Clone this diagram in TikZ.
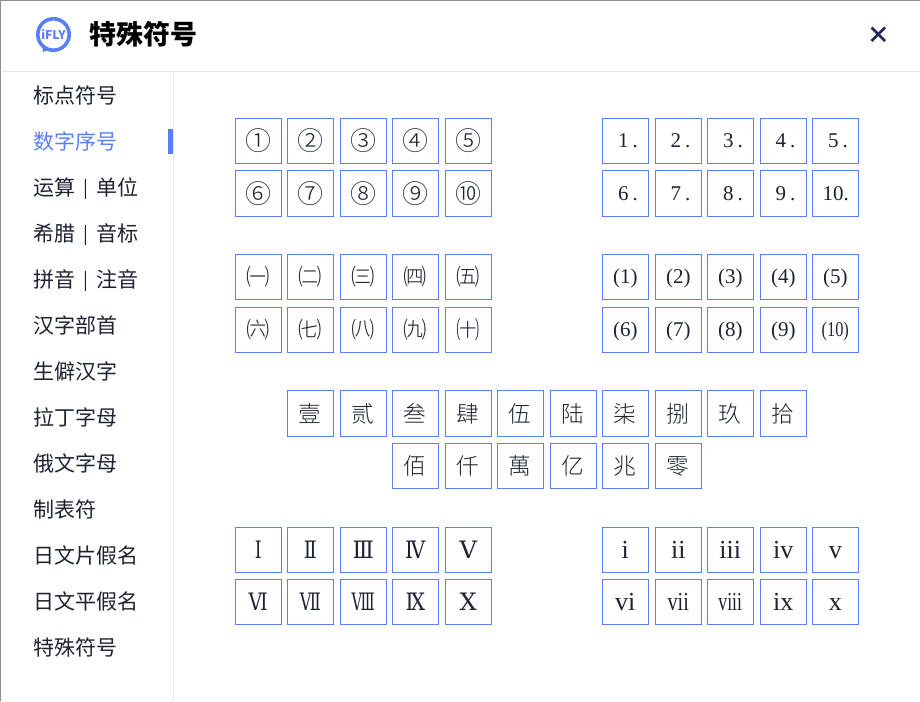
\documentclass[tikz,border=0pt]{standalone}
\usepackage{fontspec}
\setmainfont{Noto Sans CJK SC}
\newfontfamily\latinserif{Liberation Serif}
\newfontfamily\romanserif[FakeStretch=0.72]{DejaVu Serif}
\newfontfamily\cjklight{Noto Sans CJK SC Light}
\definecolor{accent}{HTML}{5B7FFB}
\definecolor{inkdark}{HTML}{1E2233}
\definecolor{closeink}{HTML}{1E2A55}
\definecolor{rulegray}{HTML}{E4E6EA}
\definecolor{edgegray}{HTML}{8A8E96}
\tikzset{
  x=0.75pt,y=-0.75pt,
  glyphbox/.style={draw=accent,line width=0.75pt,minimum width=34.2pt,minimum height=34pt,inner sep=0pt,outer sep=0pt,text=inkdark,font=\cjklight\fontsize{17}{17}\selectfont,text height=14.9pt,text depth=2pt,anchor=center,xshift=0.2pt},
  circlebox/.style={glyphbox,font=\cjklight\fontsize{19.5}{19.5}\selectfont,text height=16.8pt,text depth=2pt},
  smallbox/.style={glyphbox,font=\cjklight\fontsize{17.5}{17.5}\selectfont},
  digitbox/.style={glyphbox,font=\latinserif\fontsize{15.75}{15.75}\selectfont,text height=12pt,text depth=2pt},
  lowerbox/.style={glyphbox,font=\latinserif\fontsize{19.5}{19.5}\selectfont,text height=14pt,text depth=2pt},
  romanbox/.style={glyphbox,font=\romanserif\fontsize{18}{18}\selectfont,text height=14.5pt,text depth=2.5pt},
  menuitem/.style={anchor=base west,inner sep=0pt,text=inkdark,font=\fontsize{15.75}{15.75}\selectfont},
}
\newcommand{\sepbar}{\makebox[15.75pt]{\raisebox{0.6pt}{\fontsize{13.5}{13.5}\selectfont |}}}
\newcommand{\tight}[1]{\scalebox{0.78}[1]{#1}}
\newcommand{\sx}[2]{\scalebox{#1}[1]{#2}}
\newcommand{\dotted}[1]{\hspace{3.5pt}#1\hspace{3pt}.}
\newcommand{\rowboxes}[4]{%
  \foreach \xpos/\glyph [count=\i] in {#4}{\node[#1] (#2-\i) at (\xpos,#3) {\glyph};}}
\begin{document}
\begin{tikzpicture}
\useasboundingbox (0,0) rectangle (920,701);
\fill[white] (0,0) rectangle (920,701);
% window edges and rules
\draw[draw=edgegray,line width=0.75pt] (0,0.5) -- (920,0.5);
\draw[draw=edgegray,line width=1.5pt] (0,0) -- (0,701);
\draw[draw=rulegray,line width=0.75pt] (2,71.5) -- (920,71.5);
\draw[draw=rulegray,line width=0.75pt] (173.5,72) -- (173.5,701);
% logo
\draw[draw=accent,line width=2.7pt] (53.5,34.5) circle[radius=15.7];
\fill[accent] (42,44) -- (50,49) -- (43,52) -- cycle;
\node[text=accent,inner sep=0pt,font=\bfseries\fontsize{9}{9}\selectfont] (logotext) at (53.5,34.5) {iFLY};
% title and close
\node[anchor=base west,inner sep=0pt,font=\bfseries\fontsize{20.2}{20.2}\selectfont,text=black] (title) at (89.5,44) {特殊符号};
\coordinate (xa) at (871.5,27.5);\coordinate (xb) at (885,41);
\coordinate (xc) at (885,27.5);\coordinate (xd) at (871.5,41);
\draw[draw=closeink,line width=1.9pt] (xa) -- (xb) (xc) -- (xd);
% menu
\foreach \ypos/\label in {103/标点符号,195/运算\sepbar 单位,241/希腊\sepbar 音标,287/拼音\sepbar 注音,333/汉字部首,379/生僻汉字,425/拉丁字母,471/俄文字母,517/制表符,563/日文片假名,609/日文平假名,655/特殊符号}{
  \node[menuitem] at (33,\ypos) {\label};
}
\node[menuitem,text=accent] (active) at (33,149) {数字序号};
\fill[accent] (168,129) rectangle (173,154);
% grids
\rowboxes{circlebox}{a}{141}{258/①,310/②,363/③,415/④,468/⑤}
\rowboxes{circlebox}{b}{193.5}{258/⑥,310/⑦,363/⑧,415/⑨,468/⑩}
\rowboxes{digitbox}{c}{141}{625.5/\dotted{1},678/\dotted{2},730.5/\dotted{3},783/\dotted{4},835.5/\dotted{5}}
\rowboxes{digitbox}{d}{193.5}{625.5/\dotted{6},678/\dotted{7},730.5/\dotted{8},783/\dotted{9},835.5/10.}
\rowboxes{smallbox}{e}{277}{258/㈠,310/㈡,363/㈢,415/㈣,468/㈤}
\rowboxes{smallbox}{f}{330}{258/㈥,310/㈦,363/㈧,415/㈨,468/㈩}
\rowboxes{digitbox}{g}{277}{625/(1),678/(2),730/(3),783/(4),835/(5)}
\rowboxes{digitbox}{h}{330}{625/(6),678/(7),730/(8),783/(9),835/\tight{(10)}}
\rowboxes{glyphbox}{m}{413.5}{310/壹,363/贰,415/叁,468/肆,520/伍,573/陆,625/柒,678/捌,730/玖,783/拾}
\rowboxes{glyphbox}{n}{466}{415/佰,468/仟,520/萬,573/亿,625/兆,678/零}
\rowboxes{romanbox}{p}{550}{258/Ⅰ,310/\sx{1.1}{Ⅱ},363/\sx{1.28}{Ⅲ},415/\sx{1.17}{Ⅳ},468/\sx{1.4}{Ⅴ}}
\rowboxes{romanbox}{q}{602}{258/\sx{1.1}{Ⅵ},310/\sx{0.94}{Ⅶ},363/\sx{0.85}{Ⅷ},415/\sx{1.17}{Ⅸ},468/\sx{1.4}{Ⅹ}}
\rowboxes{lowerbox}{r}{550}{625/i,678/ii,730/iii,783/iv,835/v}
\rowboxes{lowerbox}{s}{602}{625/vi,678/\tight{vii},730/\scalebox{0.68}[1]{viii},783/ix,835/x}
\end{tikzpicture}
\end{document}
